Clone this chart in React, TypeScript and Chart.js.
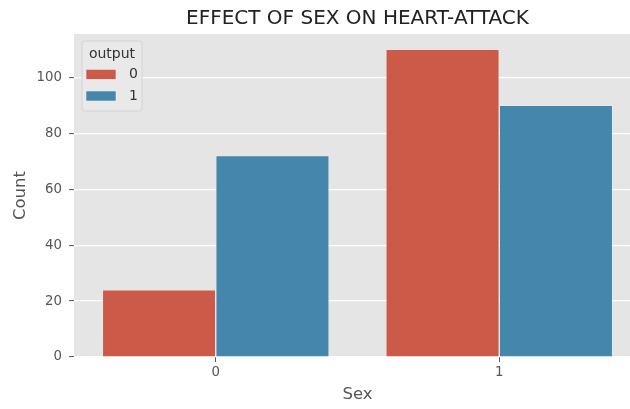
import React, { useEffect, useRef } from "react";
import { Chart, registerables } from "chart.js";

Chart.register(...registerables);

const categories = ["0", "1"];
const output0 = [24, 110];
const output1 = [72, 90];
const seriesLabels = ["0", "1"];
const seriesColors = ["#CC5A49", "#4586AC"];
const yTicks = [0, 20, 40, 60, 80, 100];
const yMax = 115.5;
const chartTitle = "EFFECT OF SEX ON HEART-ATTACK";
const xTitle = "Sex";
const yTitle = "Count";
const legendTitle = "output";

const FONT = "'DejaVu Sans', 'Liberation Sans', sans-serif";

export default function App() {
  const ref = useRef<HTMLCanvasElement | null>(null);

  useEffect(() => {
    if (!ref.current) return;
    const bgPlugin = {
      id: "bgPlugin",
      beforeDraw(chart: any) {
        const { ctx, chartArea } = chart;
        ctx.save();
        ctx.fillStyle = "#E5E5E5";
        ctx.fillRect(chartArea.left, chartArea.top, chartArea.right - chartArea.left, chartArea.bottom - chartArea.top);
        ctx.restore();
      },
      afterDraw(chart: any) {
        const { ctx, chartArea } = chart;
        ctx.save();
        // title
        ctx.fillStyle = "#222222";
        ctx.font = `20px ${FONT}`;
        ctx.textAlign = "center";
        ctx.textBaseline = "middle";
        ctx.fillText(chartTitle, (chartArea.left + chartArea.right) / 2, 19);
        // legend
        const bx = 82, by = 41, bw = 60, bh = 70;
        ctx.beginPath();
        const r = 3;
        ctx.moveTo(bx + r, by);
        ctx.lineTo(bx + bw - r, by);
        ctx.quadraticCurveTo(bx + bw, by, bx + bw, by + r);
        ctx.lineTo(bx + bw, by + bh - r);
        ctx.quadraticCurveTo(bx + bw, by + bh, bx + bw - r, by + bh);
        ctx.lineTo(bx + r, by + bh);
        ctx.quadraticCurveTo(bx, by + bh, bx, by + bh - r);
        ctx.lineTo(bx, by + r);
        ctx.quadraticCurveTo(bx, by, bx + r, by);
        ctx.closePath();
        ctx.fillStyle = "#E9E9E9";
        ctx.fill();
        ctx.strokeStyle = "#D4D4D4";
        ctx.lineWidth = 1;
        ctx.stroke();
        ctx.fillStyle = "#333333";
        ctx.font = `14px ${FONT}`;
        ctx.fillText(legendTitle, bx + bw / 2, 54);
        const ds = chart.data.datasets;
        const rows = [74.3, 96];
        ds.forEach((d: any, i: number) => {
          ctx.fillStyle = d.backgroundColor;
          ctx.fillRect(86, rows[i] - 5, 30, 10);
          ctx.strokeStyle = "#EEEEEE";
          ctx.lineWidth = 0.6;
          ctx.strokeRect(86, rows[i] - 5, 30, 10);
          ctx.fillStyle = "#333333";
          ctx.textAlign = "left";
          ctx.fillText(d.label, 129, rows[i]);
        });
        ctx.restore();
      },
    };

    const chart = new Chart(ref.current, {
      type: "bar",
      data: {
        labels: categories,
        datasets: [
          {
            label: seriesLabels[0],
            data: output0,
            backgroundColor: seriesColors[0],
            borderColor: "rgba(238,238,238,0.8)",
            borderWidth: 0.7,
            categoryPercentage: 0.8,
            barPercentage: 1.0,
          },
          {
            label: seriesLabels[1],
            data: output1,
            backgroundColor: seriesColors[1],
            borderColor: "rgba(238,238,238,0.8)",
            borderWidth: 0.7,
            categoryPercentage: 0.8,
            barPercentage: 1.0,
          },
        ],
      },
      options: {
        responsive: false,
        animation: false,
        devicePixelRatio: 1,
        layout: { padding: { top: 34, right: 9, left: 0, bottom: 0 } },
        plugins: {
          legend: { display: false },
          title: { display: false },
          tooltip: { enabled: false },
        },
        scales: {
          x: {
            offset: true,
            grid: {
              display: true,
              offset: false,
              drawOnChartArea: false,
              drawTicks: true,
              tickLength: 5,
              tickColor: "#555555",
              tickWidth: 1,
            },
            border: { display: false },
            ticks: {
              color: "#555555",
              font: { family: FONT, size: 13.3 },
              padding: 3,
            },
            title: {
              display: true,
              text: xTitle,
              color: "#555555",
              font: { family: FONT, size: 16.5 },
              padding: { top: 0, bottom: 4 },
            },
            afterFit(scale: any) {
              scale.height = 52;
            },
          },
          y: {
            min: 0,
            max: yMax,
            grid: {
              color: "#FFFFFF",
              lineWidth: 1.2,
              drawTicks: true,
              tickLength: 5,
              tickColor: "#555555",
              tickWidth: 1,
            },
            border: { display: false },
            ticks: {
              stepSize: 20,
              includeBounds: false,
              color: "#555555",
              font: { family: FONT, size: 13.3 },
              padding: 7,
            },
            afterBuildTicks(scale: any) {
              scale.ticks = yTicks.map((v) => ({ value: v }));
            },
            title: {
              display: true,
              text: yTitle,
              color: "#555555",
              font: { family: FONT, size: 16.5 },
              padding: { top: 11, bottom: 0 },
            },
            afterFit(scale: any) {
              scale.width = 74;
            },
          },
        },
      },
      plugins: [bgPlugin],
    } as any);
    return () => chart.destroy();
  }, []);

  return (
    <div
      style={{
        position: "fixed",
        left: 0,
        top: 0,
        width: 630,
        height: 409,
        overflow: "hidden",
        background: "#FFFFFF",
      }}
    >
      <canvas ref={ref} width={650} height={409} style={{ display: "block", width: 650, height: 409 }} />
    </div>
  );
}
